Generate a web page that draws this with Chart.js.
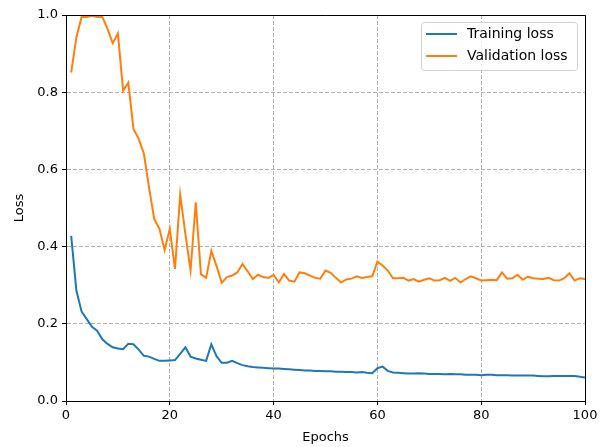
<!DOCTYPE html>
<html>
<head>
<meta charset="utf-8">
<script src="https://cdn.jsdelivr.net/npm/chart.js@4.4.1/dist/chart.umd.min.js"></script>
<style>
  body { margin: 0; background: #fff; }
  #wrap { width: 604px; height: 447px; }
</style>
</head>
<body>
<div id="wrap"><canvas id="chart" width="604" height="447"></canvas></div>
<script>
// data
const epochs = Array.from({ length: 100 }, (_, i) => i + 1);

const trainingLoss = [
  0.428, 0.286, 0.232, 0.212, 0.192, 0.182, 0.160, 0.148, 0.139, 0.136,
  0.134, 0.148, 0.147, 0.133, 0.117, 0.115, 0.109, 0.104, 0.104, 0.105,
  0.106, 0.122, 0.139, 0.115, 0.110, 0.107, 0.104, 0.147, 0.116, 0.099,
  0.099, 0.104, 0.098, 0.093, 0.090, 0.088, 0.087, 0.086, 0.085, 0.084,
  0.084, 0.083, 0.082, 0.081, 0.080, 0.079, 0.079, 0.078, 0.078, 0.077,
  0.077, 0.076, 0.076, 0.075, 0.075, 0.074, 0.075, 0.073, 0.072, 0.085,
  0.089, 0.078, 0.074, 0.073, 0.072, 0.071, 0.071, 0.072, 0.071, 0.070,
  0.070, 0.070, 0.069, 0.070, 0.069, 0.069, 0.068, 0.068, 0.068, 0.067,
  0.068, 0.068, 0.067, 0.067, 0.067, 0.066, 0.066, 0.066, 0.066, 0.066,
  0.065, 0.064, 0.064, 0.065, 0.065, 0.065, 0.065, 0.065, 0.063, 0.061
];

const validationLoss = [
  0.851, 0.942, 0.995, 0.995, 0.998, 0.995, 0.995, 0.964, 0.927, 0.952,
  0.804, 0.825, 0.705, 0.679, 0.641, 0.553, 0.472, 0.446, 0.391, 0.446,
  0.342, 0.535, 0.433, 0.338, 0.515, 0.328, 0.319, 0.389, 0.350, 0.306,
  0.321, 0.325, 0.333, 0.355, 0.336, 0.316, 0.327, 0.321, 0.319, 0.327,
  0.307, 0.329, 0.312, 0.309, 0.333, 0.331, 0.325, 0.319, 0.317, 0.338,
  0.332, 0.319, 0.307, 0.315, 0.317, 0.323, 0.319, 0.321, 0.323, 0.361,
  0.351, 0.338, 0.318, 0.318, 0.319, 0.312, 0.316, 0.309, 0.314, 0.318,
  0.312, 0.313, 0.319, 0.311, 0.319, 0.307, 0.316, 0.323, 0.318, 0.312,
  0.313, 0.314, 0.313, 0.333, 0.317, 0.318, 0.327, 0.314, 0.322, 0.318,
  0.317, 0.316, 0.319, 0.313, 0.312, 0.318, 0.331, 0.312, 0.318, 0.316
];

const seriesLabels = ["Training loss", "Validation loss"];
const seriesColors = ["#1f77b4", "#ff7f0e"];

const font = { family: "'DejaVu Sans'", size: 13 };

// matplotlib-like legend box in the upper right + full frame
const legendBox = {
  id: "legendBox",
  afterDraw(chart) {
    const ctx = chart.ctx;
    const area = chart.chartArea;

    // frame on top / right
    ctx.save();
    ctx.strokeStyle = "#000";
    ctx.lineWidth = 1;
    ctx.beginPath();
    ctx.moveTo(area.left, area.top + 0.5);
    ctx.lineTo(area.right + 0.5, area.top + 0.5);
    ctx.lineTo(area.right + 0.5, area.bottom);
    ctx.stroke();

    const w = 156, h = 48;
    const x = area.right - 8 - w;
    const y = area.top + 7;
    ctx.fillStyle = "rgba(255,255,255,0.8)";
    ctx.strokeStyle = "#d0d0d0";
    ctx.beginPath();
    ctx.roundRect(x + 0.5, y + 0.5, w, h, 3);
    ctx.fill();
    ctx.stroke();

    ctx.font = "14px 'DejaVu Sans'";
    ctx.textBaseline = "middle";
    chart.data.datasets.forEach((ds, i) => {
      const cy = y + 12 + i * 22;
      ctx.strokeStyle = ds.borderColor;
      ctx.lineWidth = 2;
      ctx.beginPath();
      ctx.moveTo(x + 5, cy);
      ctx.lineTo(x + 36, cy);
      ctx.stroke();
      ctx.fillStyle = "#000";
      ctx.fillText(ds.label, x + 46, cy);
    });
    ctx.restore();
  }
};

new Chart("chart", {
  type: "line",
  data: {
    datasets: [trainingLoss, validationLoss].map((vals, i) => ({
      label: seriesLabels[i],
      data: vals.map((v, j) => ({ x: epochs[j], y: v })),
      borderColor: seriesColors[i],
      backgroundColor: seriesColors[i],
      borderWidth: 2,
      pointRadius: 0,
      tension: 0
    }))
  },
  options: {
    responsive: false,
    animation: false,
    layout: { padding: { top: 15, right: 19, left: 0, bottom: 0 } },
    plugins: { legend: { display: false }, tooltip: { enabled: false } },
    scales: {
      x: {
        type: "linear",
        min: 0,
        max: 100,
        afterFit(scale) { scale.height = 46; },
        ticks: { stepSize: 20, color: "#000", font: font, padding: 3, maxRotation: 0 },
        grid: {
          color: "#b0b0b0",
          tickBorderDash: [],
          tickColor: "#000",
          tickLength: 4
        },
        border: { color: "#000", width: 1, dash: [4, 2] },
        title: { display: true, text: "Epochs", color: "#000", font: font, padding: { top: 0, bottom: 2 } }
      },
      y: {
        min: 0,
        max: 1,
        afterFit(scale) { scale.width = 66; },
        ticks: {
          stepSize: 0.2,
          color: "#000",
          font: font,
          padding: 4,
          callback: v => v.toFixed(1)
        },
        grid: {
          color: "#b0b0b0",
          tickBorderDash: [],
          tickColor: "#000",
          tickLength: 4
        },
        border: { color: "#000", width: 1, dash: [4, 2] },
        title: { display: true, text: "Loss", color: "#000", font: font, padding: { top: 12, bottom: 0 } }
      }
    }
  },
  plugins: [legendBox]
});
</script>
</body>
</html>
